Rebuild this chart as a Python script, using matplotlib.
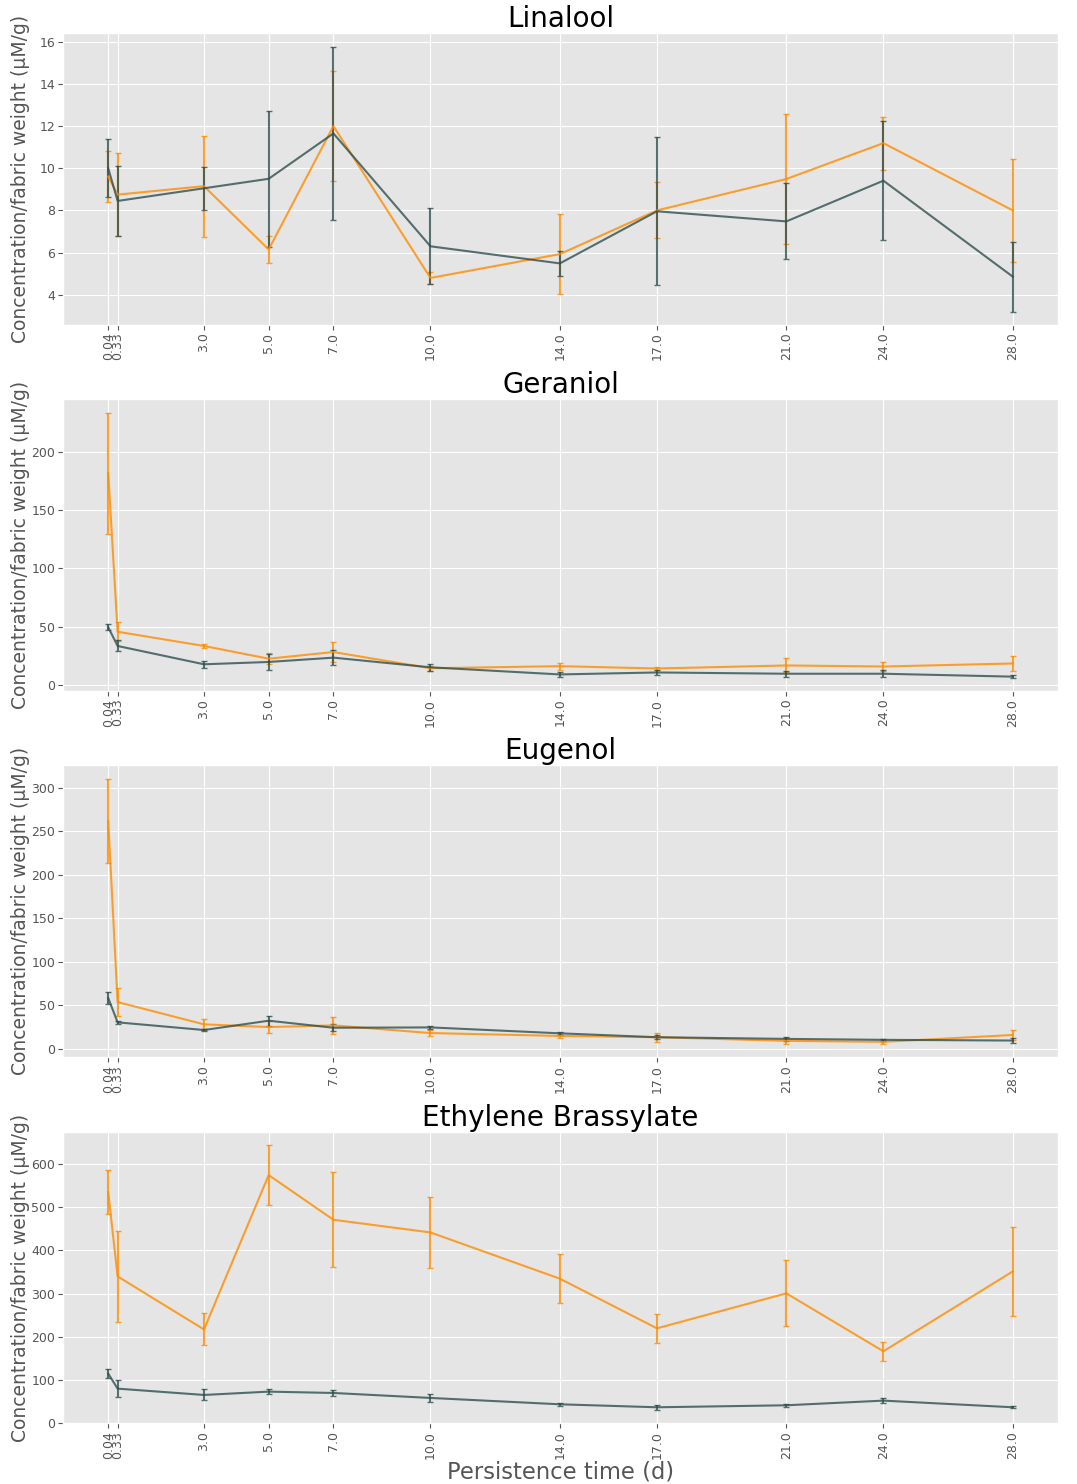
import numpy as np
import matplotlib
matplotlib.use("Agg")
import matplotlib.pyplot as plt

plt.style.use("ggplot")

# persistence time in days
days = [0.04, 0.33, 3.0, 5.0, 7.0, 10.0, 14.0, 17.0, 21.0, 24.0, 28.0]
day_labels = ["0.04", "0.33", "3.0", "5.0", "7.0", "10.0", "14.0", "17.0", "21.0", "24.0", "28.0"]

compounds = ["Linalool", "Geraniol", "Eugenol", "Ethylene Brassylate"]

# orange series (mean, error)
linalool_a = [9.6, 8.75, 9.15, 6.15, 12.0, 4.8, 5.93, 8.0, 9.49, 11.19, 8.0]
linalool_a_err = [1.2, 1.95, 2.4, 0.65, 2.6, 0.3, 1.9, 1.33, 3.1, 1.25, 2.45]
geraniol_a = [181.5, 45.6, 33.4, 22.5, 28.2, 14.3, 16.1, 14.1, 16.7, 15.8, 18.4]
geraniol_a_err = [52.0, 8.0, 1.5, 4.8, 8.5, 2.0, 3.0, 1.5, 6.0, 4.2, 6.8]
eugenol_a = [261.7, 53.6, 28.0, 24.9, 26.8, 18.0, 14.7, 13.2, 9.0, 7.9, 15.8]
eugenol_a_err = [48.6, 16.0, 6.2, 7.0, 9.6, 3.5, 2.0, 5.0, 3.5, 2.0, 5.5]
brassylate_a = [534.6, 339.7, 217.0, 574.0, 470.7, 441.4, 334.4, 219.6, 300.5, 166.4, 351.3]
brassylate_a_err = [51.0, 106.0, 37.0, 70.0, 110.0, 82.0, 56.5, 33.5, 76.0, 22.7, 103.7]

# dark grey series (mean, error)
linalool_b = [10.0, 8.45, 9.05, 9.5, 11.65, 6.3, 5.49, 7.96, 7.48, 9.41, 4.86]
linalool_b_err = [1.37, 1.64, 1.02, 3.23, 4.12, 1.8, 0.6, 3.5, 1.8, 2.82, 1.66]
geraniol_b = [49.4, 33.4, 17.7, 19.7, 23.4, 15.1, 9.0, 10.7, 9.6, 9.6, 7.1]
geraniol_b_err = [2.5, 4.7, 3.0, 7.0, 6.5, 3.0, 2.5, 2.3, 2.5, 2.8, 1.0]
eugenol_b = [58.2, 30.3, 21.5, 32.2, 24.1, 24.5, 17.7, 13.2, 11.3, 10.2, 9.4]
eugenol_b_err = [6.7, 1.5, 1.5, 5.7, 4.0, 2.0, 1.5, 2.0, 2.0, 1.5, 2.5]
brassylate_b = [114.8, 80.1, 65.5, 73.2, 70.1, 58.6, 43.9, 37.0, 41.6, 52.4, 37.0]
brassylate_b_err = [11.0, 19.7, 12.7, 5.0, 6.5, 8.5, 3.0, 6.4, 4.0, 6.5, 2.5]

series_a = [(linalool_a, linalool_a_err), (geraniol_a, geraniol_a_err),
            (eugenol_a, eugenol_a_err), (brassylate_a, brassylate_a_err)]
series_b = [(linalool_b, linalool_b_err), (geraniol_b, geraniol_b_err),
            (eugenol_b, eugenol_b_err), (brassylate_b, brassylate_b_err)]

fig, axes = plt.subplots(4, 1, figsize=(10.77, 14.84), dpi=100)
fig.subplots_adjust(left=0.0585, right=0.9824, top=0.9776, bottom=0.0409, hspace=0.255)

for ax, name, (ma, ea), (mb, eb) in zip(axes, compounds, series_a, series_b):
    ax.errorbar(days, ma, yerr=ea, color="darkorange", alpha=0.8, lw=1.5,
                elinewidth=1.5, capsize=2)
    ax.errorbar(days, mb, yerr=eb, color="darkslategray", alpha=0.8, lw=1.5,
                elinewidth=1.5, capsize=2)
    ax.set_title(name, fontsize=20, color="black", pad=4)
    ax.set_ylabel("Concentration/fabric weight (\u03bcM/g)", fontsize=13.5)
    # keep all y labels in one column, as in the original
    ax.yaxis.set_label_coords(-0.033, 0.5)
    ax.set_xticks(days)
    ax.set_xticklabels(day_labels, rotation=90)
    ax.tick_params(labelsize=9, pad=2)

axes[-1].set_xlabel("Persistence time (d)", fontsize=16.3)
axes[-1].xaxis.set_label_coords(0.5, -0.128)

plt.savefig("out.png", dpi=100)
